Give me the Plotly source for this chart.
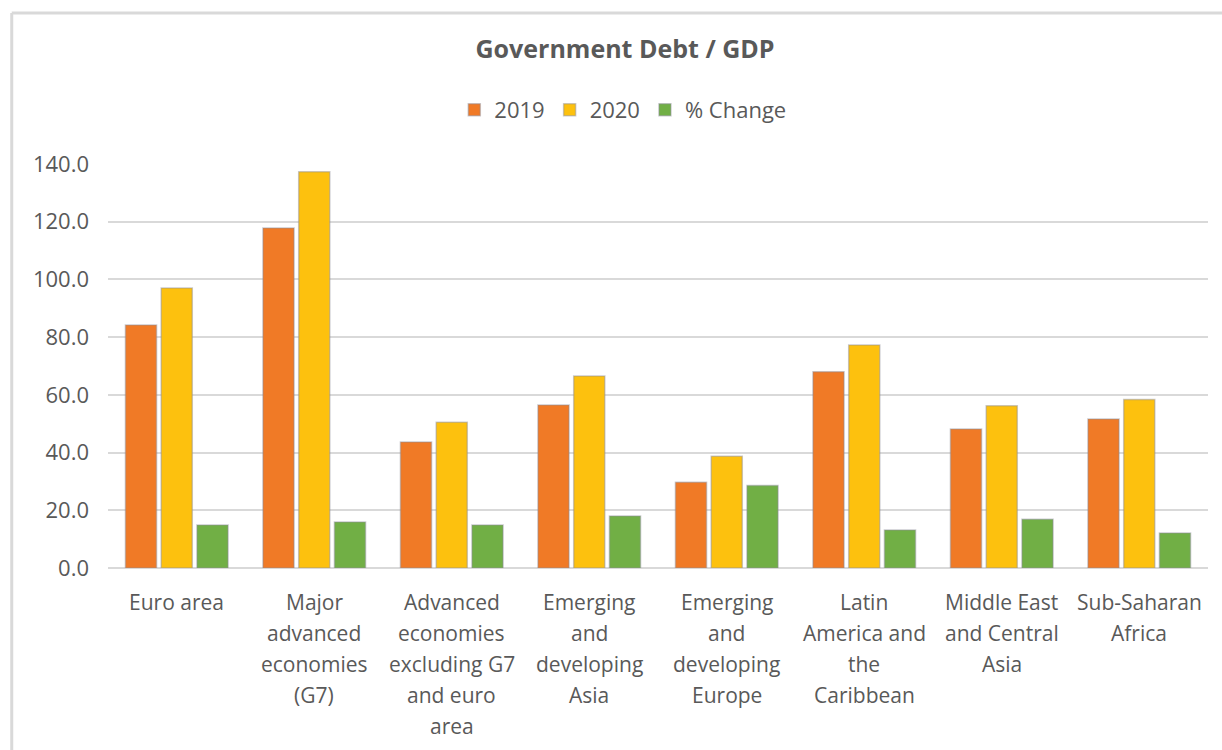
import plotly.graph_objects as go

categories = [
    "Euro area",
    "Major<br>advanced<br>economies<br>(G7)",
    "Advanced<br>economies<br>excluding G7<br>and euro<br>area",
    "Emerging<br>and<br>developing<br>Asia",
    "Emerging<br>and<br>developing<br>Europe",
    "Latin<br>America and<br>the<br>Caribbean",
    "Middle East<br>and Central<br>Asia",
    "Sub-Saharan<br>Africa",
]
debt_2019 = [84.2, 117.8, 43.7, 56.5, 29.7, 68.0, 48.2, 51.6]
debt_2020 = [97.0, 137.3, 50.5, 66.5, 38.7, 77.3, 56.2, 58.4]
pct_change = [14.9, 15.9, 14.9, 18.0, 28.6, 13.2, 16.9, 12.1]
y_ticks = [0, 20, 40, 60, 80, 100, 120, 140]

FONT = "Open Sans"
TXT = "#595959"
GRID = "#D9D9D9"
EDGE = "rgba(140,140,150,0.45)"

fig = go.Figure()
fig.add_trace(go.Bar(name="2019", x=categories, y=debt_2019,
                     marker=dict(color="#F07A26", line=dict(color=EDGE, width=1.5))))
fig.add_trace(go.Bar(name="2020", x=categories, y=debt_2020,
                     marker=dict(color="#FDC10E", line=dict(color=EDGE, width=1.5))))
fig.add_trace(go.Bar(name="% Change", x=categories, y=pct_change,
                     marker=dict(color="#71AF45", line=dict(color=EDGE, width=1.5))))

annotations = []
for cat in categories:
    for i, line in enumerate(cat.split("<br>")):
        annotations.append(dict(
            x=cat, y=0, xref="x", yref="y", text=line, showarrow=False,
            yanchor="middle", xanchor="center", yshift=-(34 + 31 * i),
            font=dict(family=FONT, size=21, color=TXT)))

shapes = [
    dict(type="line", xref="paper", yref="paper", x0=-0.0875, x1=1.02, y0=1.3738, y1=1.3738,
         line=dict(color=GRID, width=3)),
    dict(type="line", xref="paper", yref="paper", x0=-0.0875, x1=-0.0875, y0=1.3738, y1=-0.46,
         line=dict(color=GRID, width=3)),
]

fig.update_layout(
    width=1222, height=750,
    margin=dict(l=108, r=14, t=164, b=182),
    paper_bgcolor="white", plot_bgcolor="white",
    font=dict(family=FONT, color=TXT),
    barmode="group", bargap=0.22, bargroupgap=0.13,
    title=dict(text="<b>Government Debt / GDP</b>", x=0.47, xref="paper", xanchor="center",
               y=1 - 49.5 / 750, yref="container", yanchor="middle",
               font=dict(family=FONT, size=25, color=TXT)),
    legend=dict(orientation="h", x=0.468, xanchor="center", y=1.1337, yanchor="middle",
                font=dict(family=FONT, size=22, color=TXT), bgcolor="rgba(0,0,0,0)"),
    xaxis=dict(showticklabels=False, showgrid=False, showline=False, ticks=""),
    yaxis=dict(range=[0, 140], tickvals=y_ticks, tickformat=".1f",
               showgrid=True, gridcolor=GRID, gridwidth=1.5,
               zeroline=True, zerolinecolor=GRID, zerolinewidth=2,
               showline=False, ticks="", ticklabelstandoff=18,
               tickfont=dict(family=FONT, size=22, color=TXT)),
    annotations=annotations,
    shapes=shapes,
)

fig.write_html("out.html")
